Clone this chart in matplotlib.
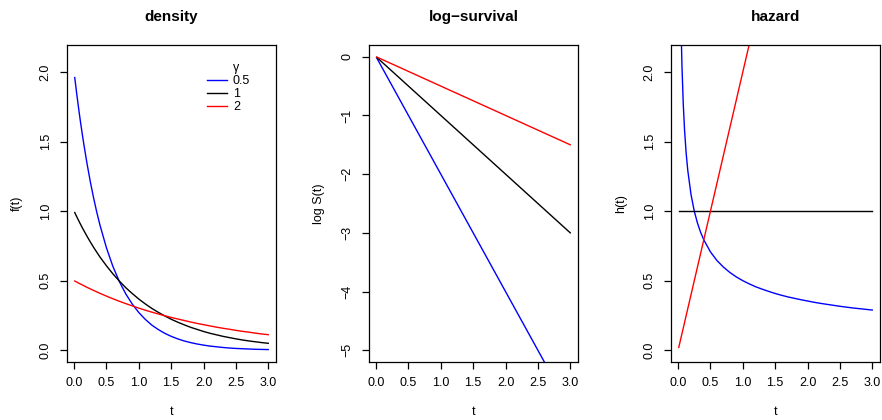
import matplotlib
matplotlib.use("Agg")
import matplotlib.pyplot as plt
from matplotlib.lines import Line2D

plt.rcParams['font.family'] = ['Liberation Sans', 'DejaVu Sans']

# values
t = [0.01, 0.02, 0.03, 0.04, 0.05, 0.06, 0.08, 0.1, 0.125, 0.15, 0.2, 0.25, 0.3, 0.35,
     0.4, 0.5, 0.6, 0.7, 0.8, 0.9, 1.0, 1.1, 1.2, 1.3, 1.4, 1.5, 1.6, 1.7, 1.8, 1.9,
     2.0, 2.1, 2.2, 2.3, 2.4, 2.5, 2.6, 2.7, 2.8, 2.9, 3.0]

dens_05 = [1.960, 1.922, 1.884, 1.846, 1.810, 1.774, 1.704, 1.637, 1.558, 1.482, 1.341,
           1.213, 1.098, 0.993, 0.899, 0.736, 0.602, 0.493, 0.404, 0.331, 0.271, 0.222,
           0.181, 0.149, 0.122, 0.100, 0.082, 0.067, 0.055, 0.045, 0.037, 0.030, 0.025,
           0.020, 0.016, 0.013, 0.011, 0.009, 0.007, 0.006, 0.005]
dens_1 = [0.990, 0.980, 0.970, 0.961, 0.951, 0.942, 0.923, 0.905, 0.882, 0.861, 0.819,
          0.779, 0.741, 0.705, 0.670, 0.607, 0.549, 0.497, 0.449, 0.407, 0.368, 0.333,
          0.301, 0.273, 0.247, 0.223, 0.202, 0.183, 0.165, 0.150, 0.135, 0.122, 0.111,
          0.100, 0.091, 0.082, 0.074, 0.067, 0.061, 0.055, 0.050]
dens_2 = [0.498, 0.495, 0.493, 0.490, 0.488, 0.485, 0.480, 0.476, 0.470, 0.464, 0.452,
          0.441, 0.430, 0.420, 0.409, 0.389, 0.370, 0.352, 0.335, 0.319, 0.303, 0.288,
          0.274, 0.261, 0.248, 0.236, 0.225, 0.214, 0.203, 0.193, 0.184, 0.175, 0.166,
          0.158, 0.151, 0.143, 0.136, 0.130, 0.123, 0.117, 0.112]

t_ls = [0.01, 1.0, 2.0, 2.6, 3.0]
logs_05 = [-0.02, -2.0, -4.0, -5.2, -6.0]
logs_1 = [-0.01, -1.0, -2.0, -2.6, -3.0]
logs_2 = [-0.005, -0.5, -1.0, -1.3, -1.5]

haz_05 = [5.000, 3.536, 2.887, 2.500, 2.236, 2.041, 1.768, 1.581, 1.414, 1.291, 1.118,
          1.000, 0.913, 0.845, 0.791, 0.707, 0.645, 0.598, 0.559, 0.527, 0.500, 0.477,
          0.456, 0.439, 0.423, 0.408, 0.395, 0.383, 0.373, 0.363, 0.354, 0.345, 0.337,
          0.330, 0.323, 0.316, 0.310, 0.304, 0.299, 0.294, 0.289]
t_line = [0.01, 3.0]
haz_1 = [1.0, 1.0]
haz_2 = [0.02, 6.0]

gammas = ['0.5', '1', '2']
colors = ['blue', 'black', 'red']

fig = plt.figure(figsize=(8.82, 4.2), dpi=100)
W, H = 882, 420


def make_ax(left, right, top=45, bottom=362):
    return fig.add_axes([left / W, 1 - bottom / H, (right - left) / W, (bottom - top) / H])


def style(ax, title, ylabel, yticks, ylabels, ylim):
    ax.set_xlim(-0.1096, 3.1196)
    ax.set_ylim(*ylim)
    ax.set_xticks([0, 0.5, 1, 1.5, 2, 2.5, 3])
    ax.set_xticklabels(['0.0', '0.5', '1.0', '1.5', '2.0', '2.5', '3.0'])
    ax.set_yticks(yticks)
    ax.set_yticklabels(ylabels, rotation=90, va='center')
    ax.tick_params(length=5, width=0.9, labelsize=9, pad=6)
    for s in ax.spines.values():
        s.set_linewidth(0.9)
    ax.set_title(title, fontsize=11, fontweight='bold', pad=17)
    ax.set_xlabel('t', fontsize=9, labelpad=12)
    ax.set_ylabel(ylabel, fontsize=9, labelpad=12)


# density
ax1 = make_ax(67, 276)
lines = []
for y, c in zip([dens_05, dens_1, dens_2], colors):
    lines += ax1.plot(t, y, color=c, lw=1)
style(ax1, 'density', 'f(t)', [0, 0.5, 1, 1.5, 2], ['0.0', '0.5', '1.0', '1.5', '2.0'],
      (-0.0844, 2.194))
blank = Line2D([], [], color='none')
ax1.legend([blank] + lines, ['\u03b3'] + gammas, frameon=False, loc='upper right',
           bbox_to_anchor=(0.9, 0.962), fontsize=9, handlelength=1.6, handletextpad=0.5,
           labelspacing=0.08, borderaxespad=0)

# log-survival
ax2 = make_ax(369, 578)
for y, c in zip([logs_05, logs_1, logs_2], colors):
    ax2.plot(t_ls, y, color=c, lw=1)
style(ax2, 'log\u2212survival', 'log S(t)', [0, -1, -2, -3, -4, -5],
      ['0', '\u22121', '\u22122', '\u22123', '\u22124', '\u22125'], (-5.2, 0.2))

# hazard
ax3 = make_ax(671, 880)
ax3.plot(t, haz_05, color='blue', lw=1)
ax3.plot(t_line, haz_1, color='black', lw=1)
ax3.plot(t_line, haz_2, color='red', lw=1)
style(ax3, 'hazard', 'h(t)', [0, 0.5, 1, 1.5, 2], ['0.0', '0.5', '1.0', '1.5', '2.0'],
      (-0.0844, 2.194))

fig.savefig('out.png', dpi=100)
